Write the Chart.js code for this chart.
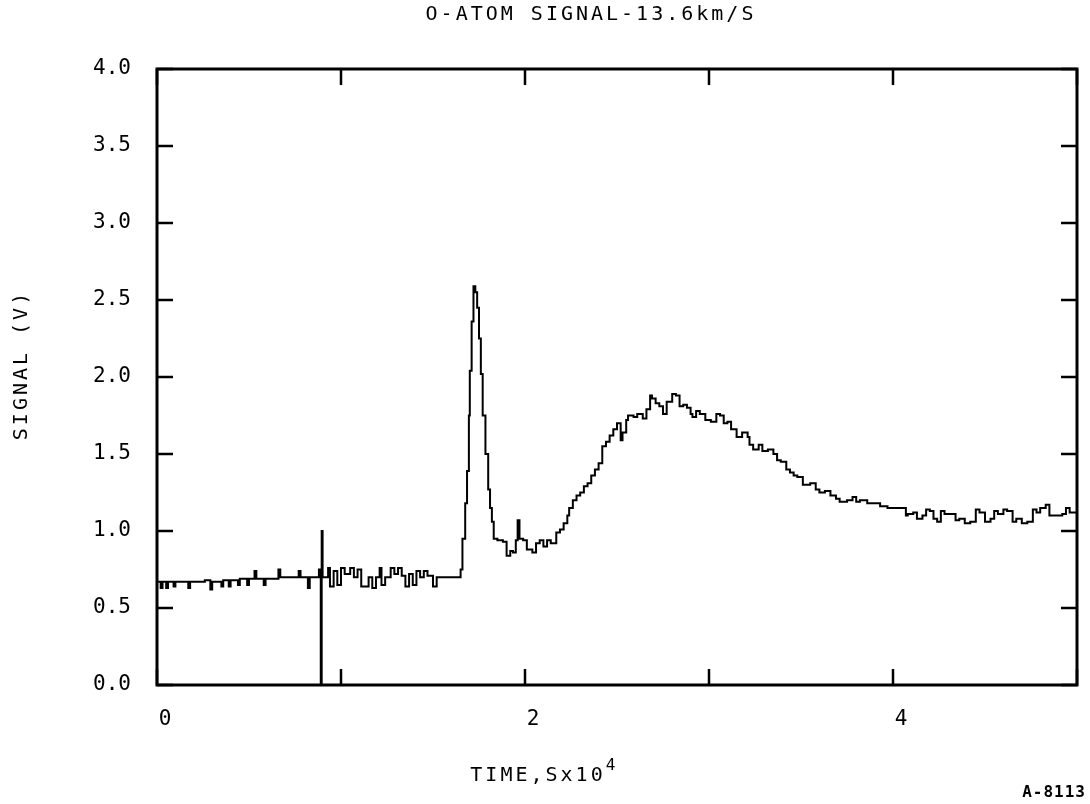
<!DOCTYPE html>
<html>
<head>
<meta charset="utf-8">
<script src="https://cdn.jsdelivr.net/npm/chart.js@4"></script>
<style>
  body { margin: 0; background: #fff; }
  canvas { display: block; }
</style>
</head>
<body>
<canvas id="chart" width="1090" height="804"></canvas>
<script>
const chartTitle = 'O-ATOM SIGNAL-13.6km/S'
const xTitle = 'TIME,Sx10'
const xTitleSup = '4'
const yTitle = 'SIGNAL (V)'
const note = 'A-8113'

const xTickLabels = ['0', '', '2', '', '4', '']
const yTickLabels = ['0.0', '0.5', '1.0', '1.5', '2.0', '2.5', '3.0', '3.5', '4.0']

// time (x 10^4 s) and signal (V)
const time = [
  0.00, 0.02, 0.03, 0.05, 0.06, 0.09, 0.10, 0.17, 0.18, 0.26, 0.29, 0.30, 0.35, 0.36, 0.39, 0.40,
  0.44, 0.45, 0.49, 0.50, 0.53, 0.54, 0.58, 0.59, 0.66, 0.67, 0.77, 0.78, 0.82, 0.83, 0.88, 0.89,
  0.895, 0.90, 0.93, 0.94, 0.96, 0.98, 1.00, 1.02, 1.05, 1.07, 1.09, 1.11, 1.13, 1.15, 1.17, 1.19,
  1.21, 1.22, 1.24, 1.27, 1.29, 1.31, 1.33, 1.35, 1.37, 1.39, 1.41, 1.43, 1.45, 1.47, 1.50, 1.52,
  1.55, 1.64, 1.65, 1.66, 1.675, 1.685, 1.695, 1.70, 1.71, 1.72, 1.73, 1.74, 1.75, 1.76, 1.77, 1.785,
  1.80, 1.81, 1.82, 1.83, 1.85, 1.88, 1.90, 1.92, 1.935, 1.95, 1.96, 1.97, 1.99, 2.01, 2.04, 2.06,
  2.08, 2.10, 2.12, 2.14, 2.17, 2.19, 2.21, 2.23, 2.24, 2.26, 2.28, 2.30, 2.32, 2.34, 2.36, 2.38,
  2.40, 2.42, 2.44, 2.46, 2.48, 2.50, 2.52, 2.53, 2.55, 2.56, 2.59, 2.61, 2.64, 2.66, 2.68, 2.69,
  2.71, 2.73, 2.75, 2.77, 2.80, 2.82, 2.84, 2.86, 2.88, 2.90, 2.91, 2.93, 2.95, 2.98, 3.01, 3.04,
  3.06, 3.08, 3.10, 3.12, 3.15, 3.18, 3.21, 3.22, 3.24, 3.27, 3.29, 3.32, 3.35, 3.37, 3.39, 3.42,
  3.44, 3.46, 3.48, 3.51, 3.55, 3.58, 3.60, 3.63, 3.66, 3.69, 3.71, 3.75, 3.78, 3.80, 3.82, 3.86,
  3.89, 3.93, 3.97, 4.01, 4.04, 4.07, 4.08, 4.11, 4.13, 4.16, 4.18, 4.20, 4.22, 4.24, 4.26, 4.28,
  4.31, 4.34, 4.36, 4.39, 4.42, 4.45, 4.47, 4.50, 4.53, 4.55, 4.57, 4.60, 4.62, 4.65, 4.67, 4.70,
  4.73, 4.76, 4.78, 4.80, 4.83, 4.85, 4.88, 4.92, 4.94, 4.96, 5.00
]
const signal = [
  0.67, 0.63, 0.67, 0.63, 0.67, 0.64, 0.67, 0.63, 0.67, 0.68, 0.62, 0.67, 0.64, 0.68, 0.64, 0.68,
  0.65, 0.69, 0.65, 0.69, 0.74, 0.69, 0.65, 0.69, 0.75, 0.70, 0.74, 0.70, 0.63, 0.70, 0.75, 0.00,
  1.00, 0.70, 0.76, 0.64, 0.74, 0.65, 0.76, 0.72, 0.76, 0.70, 0.75, 0.64, 0.64, 0.70, 0.63, 0.70,
  0.76, 0.65, 0.70, 0.76, 0.72, 0.76, 0.71, 0.64, 0.72, 0.65, 0.74, 0.70, 0.74, 0.71, 0.64, 0.70,
  0.70, 0.70, 0.75, 0.95, 1.18, 1.39, 1.75, 2.04, 2.36, 2.59, 2.55, 2.45, 2.25, 2.02, 1.75, 1.50,
  1.27, 1.15, 1.06, 0.95, 0.94, 0.93, 0.84, 0.87, 0.86, 0.94, 1.07, 0.95, 0.94, 0.88, 0.86, 0.92,
  0.94, 0.90, 0.94, 0.92, 0.99, 1.01, 1.05, 1.10, 1.15, 1.20, 1.23, 1.25, 1.29, 1.31, 1.36, 1.40,
  1.44, 1.55, 1.58, 1.62, 1.66, 1.70, 1.59, 1.64, 1.72, 1.75, 1.74, 1.76, 1.73, 1.79, 1.88, 1.86,
  1.83, 1.81, 1.76, 1.84, 1.89, 1.88, 1.81, 1.82, 1.80, 1.76, 1.74, 1.78, 1.76, 1.72, 1.71, 1.76,
  1.75, 1.70, 1.71, 1.66, 1.61, 1.64, 1.61, 1.56, 1.53, 1.56, 1.52, 1.53, 1.50, 1.46, 1.45, 1.40,
  1.38, 1.36, 1.35, 1.30, 1.31, 1.27, 1.25, 1.26, 1.23, 1.21, 1.19, 1.20, 1.22, 1.19, 1.20, 1.18,
  1.18, 1.16, 1.15, 1.15, 1.15, 1.10, 1.11, 1.12, 1.08, 1.10, 1.14, 1.13, 1.08, 1.06, 1.13, 1.11,
  1.11, 1.07, 1.08, 1.05, 1.06, 1.14, 1.12, 1.06, 1.08, 1.13, 1.11, 1.14, 1.13, 1.06, 1.08, 1.05,
  1.06, 1.14, 1.12, 1.15, 1.17, 1.10, 1.10, 1.11, 1.15, 1.12, 1.12
]

const monoFont = '"DejaVu Sans Mono", "Liberation Mono", monospace'

// frame with inward ticks plus the free-placed texts
const plotDecor = {
  id: 'plotDecor',
  afterDraw(chart) {
    const c = chart.ctx
    const area = chart.chartArea
    const xs = chart.scales.x
    const ys = chart.scales.y
    const tick = 16
    c.save()
    c.strokeStyle = '#000'
    c.lineWidth = 3
    c.strokeRect(area.left, area.top, area.right - area.left, area.bottom - area.top)
    c.lineWidth = 2.5
    c.beginPath()
    xs.ticks.forEach(t => {
      const px = xs.getPixelForValue(t.value)
      c.moveTo(px, area.bottom); c.lineTo(px, area.bottom - tick)
      c.moveTo(px, area.top); c.lineTo(px, area.top + tick)
    })
    ys.ticks.forEach(t => {
      const py = ys.getPixelForValue(t.value)
      c.moveTo(area.left, py); c.lineTo(area.left + tick, py)
      c.moveTo(area.right, py); c.lineTo(area.right - tick, py)
    })
    c.stroke()

    c.fillStyle = '#000'
    c.textBaseline = 'middle'
    c.letterSpacing = '3px'
    c.font = '20px ' + monoFont
    c.textAlign = 'center'
    c.fillText(chartTitle, 591, 15)

    // x axis title with raised exponent
    const w = c.measureText(xTitle).width
    const x0 = 545 - (w + 14) / 2
    c.textAlign = 'left'
    c.fillText(xTitle, x0, 776)
    c.font = '16px ' + monoFont
    c.fillText(xTitleSup, x0 + w, 766)

    c.save()
    c.translate(22, 365)
    c.rotate(-Math.PI / 2)
    c.font = '20px ' + monoFont
    c.textAlign = 'center'
    c.fillText(yTitle, 0, 0)
    c.restore()

    c.letterSpacing = '1px'
    c.font = 'bold 16px ' + monoFont
    c.textAlign = 'right'
    c.fillText(note, 1086, 793)
    c.restore()
  }
}

new Chart(document.getElementById('chart'), {
  type: 'line',
  data: {
    labels: time,
    datasets: [{
      data: time.map((t, i) => ({ x: t, y: signal[i] })),
      borderColor: '#000',
      borderWidth: 2,
      pointRadius: 0,
      stepped: true,
      tension: 0
    }]
  },
  options: {
    responsive: false,
    animation: false,
    layout: { padding: { top: 69, right: 13, left: 0, bottom: 0 } },
    plugins: {
      legend: { display: false },
      tooltip: { enabled: false }
    },
    scales: {
      x: {
        type: 'linear',
        min: 0,
        max: 5,
        grid: { display: false, drawTicks: false },
        border: { display: false },
        ticks: {
          stepSize: 1,
          autoSkip: false,
          maxRotation: 0,
          padding: 22,
          labelOffset: 8,
          color: '#000',
          font: { family: monoFont, size: 21 },
          callback: (v, i) => xTickLabels[i]
        },
        afterFit: scale => {
          scale.height = 119
          scale.paddingLeft = 0
          scale.paddingRight = 0
        }
      },
      y: {
        min: 0,
        max: 4,
        grid: { display: false, drawTicks: false },
        border: { display: false },
        ticks: {
          stepSize: 0.5,
          padding: 26,
          color: '#000',
          font: { family: monoFont, size: 21 },
          callback: (v, i) => yTickLabels[i]
        },
        afterFit: scale => { scale.width = 157 }
      }
    }
  },
  plugins: [plotDecor]
})
</script>
</body>
</html>
